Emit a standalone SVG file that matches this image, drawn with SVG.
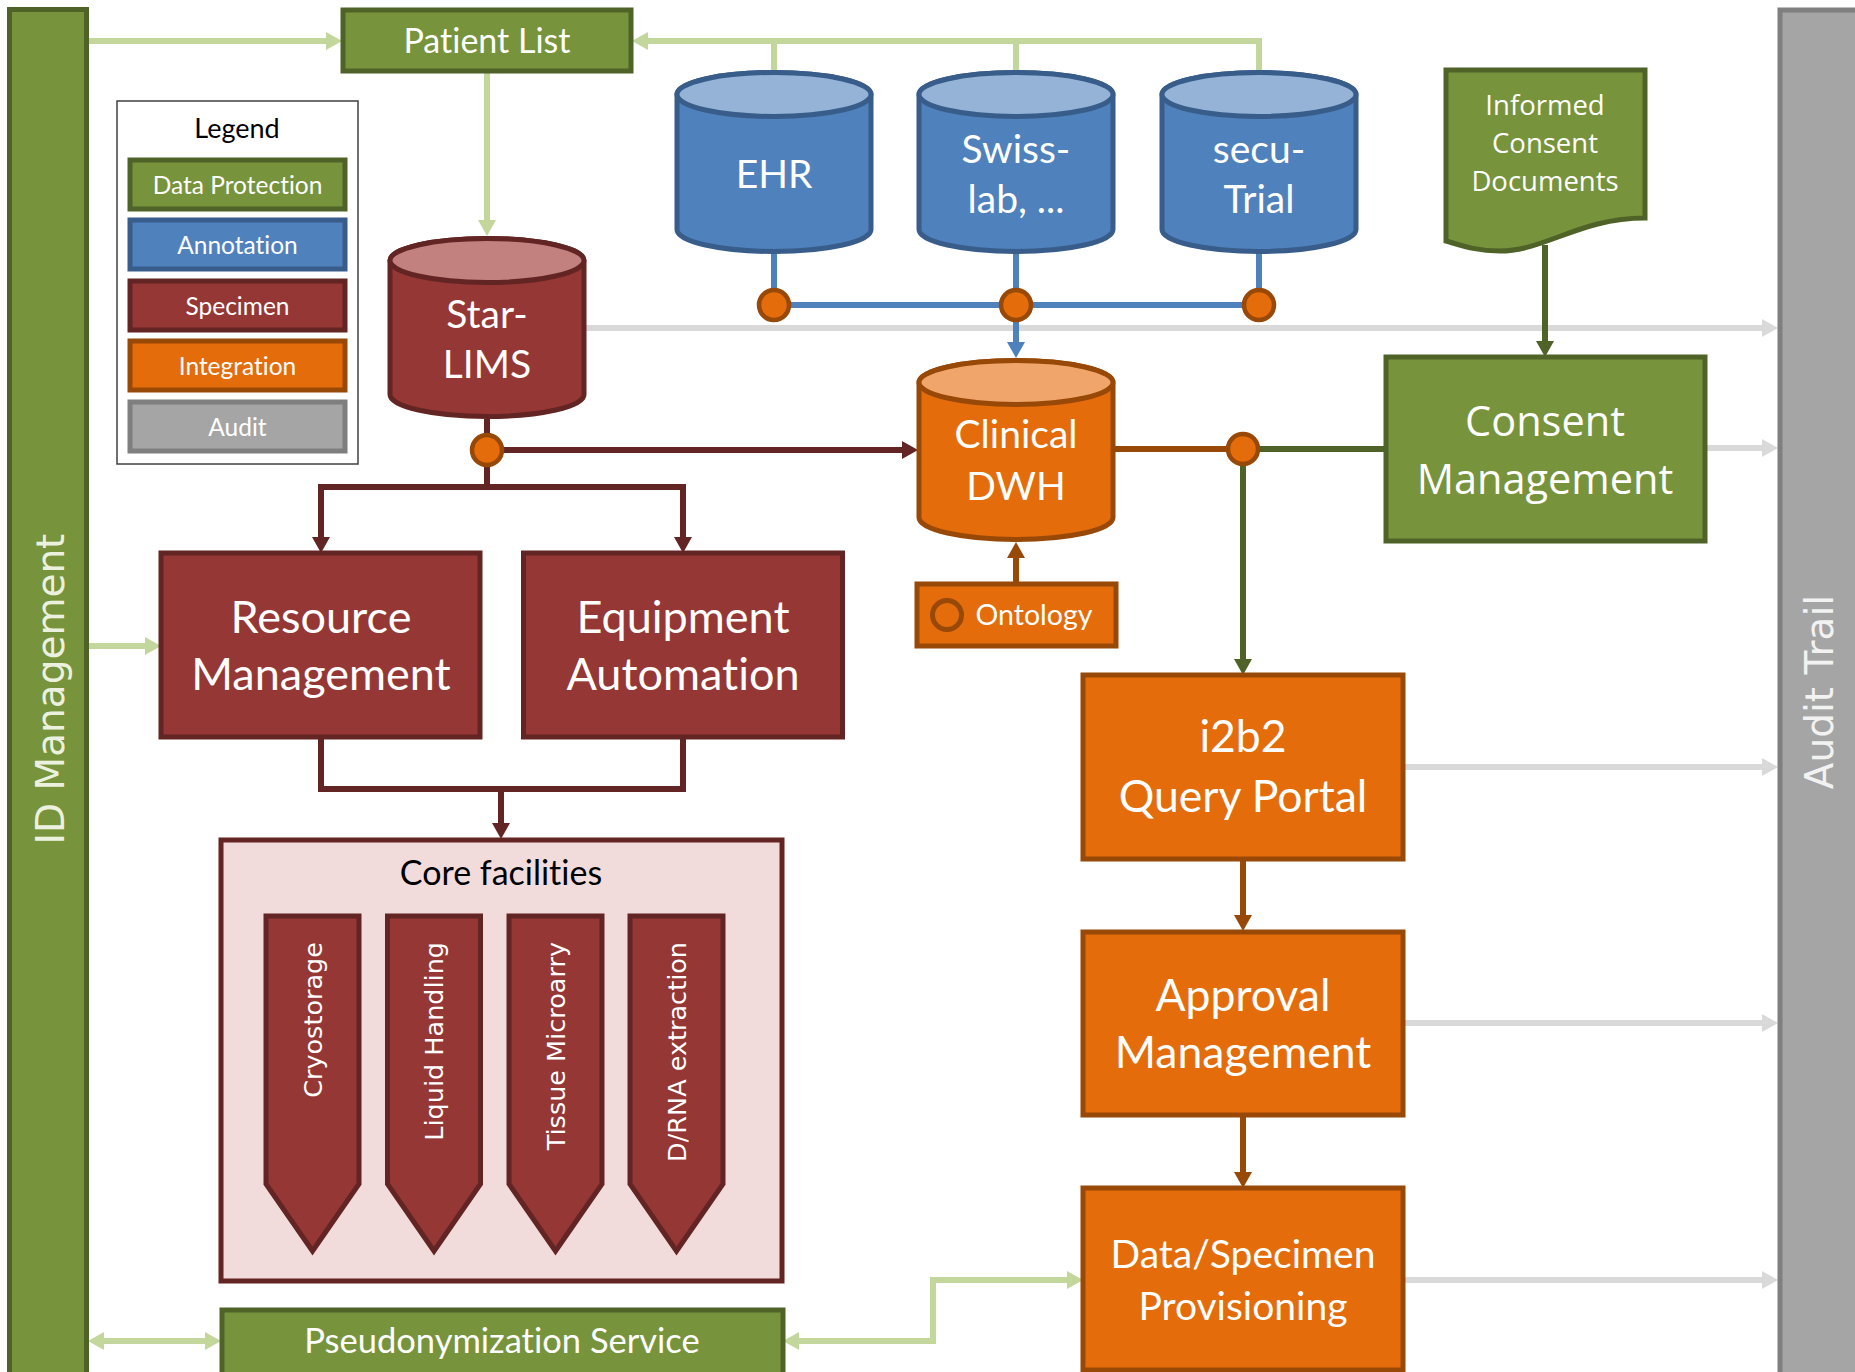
<svg xmlns="http://www.w3.org/2000/svg" width="1855" height="1372" viewBox="0 0 1855 1372">
<style>
.cal{font-family:Lato,"Liberation Sans",sans-serif;fill:#fff;text-anchor:middle;font-variant-ligatures:none}
.seg{font-family:"Open Sans","Liberation Sans",sans-serif;fill:#fff;text-anchor:middle}
.ver{font-family:"DejaVu Sans",Verdana,sans-serif;text-anchor:middle}
.green{fill:#77933c;stroke:#4f6228;stroke-width:5}
.blue{fill:#4f81bd;stroke:#385d8a;stroke-width:5}
.red{fill:#953735;stroke:#632523;stroke-width:5}
.orange{fill:#e46c0a;stroke:#984807;stroke-width:5}
.gray{fill:#a5a5a5;stroke:#7f7f7f;stroke-width:5}
.c{fill:none;stroke-width:6}
.lg{stroke:#c3d69b}
.gr{stroke:#d9d9d9}
.bl{stroke:#4f81bd}
.dr{stroke:#632523}
.br{stroke:#984807}
.dg{stroke:#4f6228}
.jn{fill:#e46c0a;stroke:#984807;stroke-width:4.5}
</style>
<defs>
<marker id="aLg" markerUnits="userSpaceOnUse" markerWidth="16" markerHeight="18" refX="0" refY="9" orient="auto-start-reverse"><path d="M0,0 L16,9 L0,18 Z" fill="#c3d69b"/></marker>
<marker id="aGr" markerUnits="userSpaceOnUse" markerWidth="16" markerHeight="18" refX="0" refY="9" orient="auto-start-reverse"><path d="M0,0 L16,9 L0,18 Z" fill="#d9d9d9"/></marker>
<marker id="aBl" markerUnits="userSpaceOnUse" markerWidth="16" markerHeight="18" refX="0" refY="9" orient="auto-start-reverse"><path d="M0,0 L16,9 L0,18 Z" fill="#4f81bd"/></marker>
<marker id="aDr" markerUnits="userSpaceOnUse" markerWidth="16" markerHeight="18" refX="0" refY="9" orient="auto-start-reverse"><path d="M0,0 L16,9 L0,18 Z" fill="#632523"/></marker>
<marker id="aBr" markerUnits="userSpaceOnUse" markerWidth="16" markerHeight="18" refX="0" refY="9" orient="auto-start-reverse"><path d="M0,0 L16,9 L0,18 Z" fill="#984807"/></marker>
<marker id="aDg" markerUnits="userSpaceOnUse" markerWidth="16" markerHeight="18" refX="0" refY="9" orient="auto-start-reverse"><path d="M0,0 L16,9 L0,18 Z" fill="#4f6228"/></marker>
</defs>
<rect width="1855" height="1372" fill="#fff"/>

<g id="connectors">
<path class="c lg" d="M87,41 H326" marker-end="url(#aLg)"/>
<path class="c lg" d="M1259,70 V41 H648" marker-end="url(#aLg)"/>
<path class="c lg" d="M774,70 V41 M1016,70 V41"/>
<path class="c lg" d="M487,72 V220" marker-end="url(#aLg)"/>
<path class="c lg" d="M87,646 H145" marker-end="url(#aLg)"/>
<path class="c lg" d="M104,1341 H205" marker-start="url(#aLg)" marker-end="url(#aLg)"/>
<path class="c lg" d="M799,1341 H933 V1280 H1067" marker-start="url(#aLg)" marker-end="url(#aLg)"/>
<path class="c gr" d="M586,328 H1762" marker-end="url(#aGr)"/>
<path class="c gr" d="M1705,448 H1762" marker-end="url(#aGr)"/>
<path class="c gr" d="M1403,767 H1762" marker-end="url(#aGr)"/>
<path class="c gr" d="M1403,1023 H1762" marker-end="url(#aGr)"/>
<path class="c gr" d="M1403,1280 H1762" marker-end="url(#aGr)"/>
<path class="c bl" d="M774,252 V305 H1259 M1016,252 V305 M1259,252 V305"/>
<path class="c bl" d="M1016,305 V342" marker-end="url(#aBl)"/>
<path class="c dr" d="M487,419 V487"/>
<path class="c dr" d="M321,537 V487 H683 V537" marker-start="url(#aDr)" marker-end="url(#aDr)"/>
<path class="c dr" d="M487,450 H902" marker-end="url(#aDr)"/>
<path class="c dr" d="M321,737 V789 H683 V737"/>
<path class="c dr" d="M501,789 V823" marker-end="url(#aDr)"/>
<path class="c br" d="M1115,449 H1243"/>
<path class="c br" d="M1016,584 V558" marker-end="url(#aBr)"/>
<path class="c br" d="M1243,859 V915" marker-end="url(#aBr)"/>
<path class="c br" d="M1243,1115 V1172" marker-end="url(#aBr)"/>
<path class="c dg" d="M1243,449 H1386"/>
<path class="c dg" d="M1243,449 V659" marker-end="url(#aDg)"/>
<path class="c dg" d="M1545,245 V341" marker-end="url(#aDg)"/>
<circle class="jn" cx="487" cy="450" r="15"/>
<circle class="jn" cx="774" cy="305" r="15"/>
<circle class="jn" cx="1016" cy="305" r="15"/>
<circle class="jn" cx="1259" cy="305" r="15"/>
<circle class="jn" cx="1243" cy="449" r="15"/>
</g>

<g id="id-management">
<rect class="green" x="9.5" y="9.5" width="77" height="1375"/>
<text class="ver" transform="translate(64,689) rotate(-90)" font-size="39" fill="#ebf1de">ID Management</text>
</g>

<g id="audit-trail">
<rect class="gray" x="1780" y="10" width="90" height="1375"/>
<text class="ver" transform="translate(1833,692) rotate(-90)" font-size="39" fill="#f2f2f2">Audit Trail</text>
</g>

<g id="patient-list">
<rect class="green" x="343" y="10" width="288" height="61" stroke-width="4"/>
<text class="cal" x="487" y="53" font-size="34">Patient List</text>
</g>

<g id="legend">
<rect x="117" y="101" width="241" height="363" fill="#fff" stroke="#404040" stroke-width="1.5"/>
<text class="cal" x="237" y="138" font-size="27" style="fill:#000">Legend</text>
<rect class="green" x="130" y="160" width="215" height="49"/>
<text class="cal" x="237.5" y="193.5" font-size="24.5">Data Protection</text>
<rect class="blue" x="130" y="220" width="215" height="49"/>
<text class="cal" x="237.5" y="253.5" font-size="24.5">Annotation</text>
<rect class="red" x="130" y="281" width="215" height="49"/>
<text class="cal" x="237.5" y="314.5" font-size="24.5">Specimen</text>
<rect class="orange" x="130" y="341" width="215" height="49"/>
<text class="cal" x="237.5" y="374.5" font-size="24.5">Integration</text>
<rect class="gray" x="130" y="402" width="215" height="49"/>
<text class="cal" x="237.5" y="435.5" font-size="24.5">Audit</text>
</g>

<g id="ehr">
<path class="blue" d="M677,94.5 V229.5 A97,22 0 0 0 871,229.5 V94.5 A97,22 0 0 0 677,94.5 Z"/>
<ellipse cx="774" cy="94.5" rx="97" ry="22" fill="#95b3d7" stroke="#385d8a" stroke-width="5"/>
<text class="cal" x="774" y="188" font-size="39">EHR</text>
</g>

<g id="swisslab">
<path class="blue" d="M919,94.5 V229.5 A97,22 0 0 0 1113,229.5 V94.5 A97,22 0 0 0 919,94.5 Z"/>
<ellipse cx="1016" cy="94.5" rx="97" ry="22" fill="#95b3d7" stroke="#385d8a" stroke-width="5"/>
<text class="cal" x="1016" y="163" font-size="39">Swiss-</text>
<text class="cal" x="1016" y="213" font-size="39">lab, ...</text>
</g>

<g id="secutrial">
<path class="blue" d="M1162,94.5 V229.5 A97,22 0 0 0 1356,229.5 V94.5 A97,22 0 0 0 1162,94.5 Z"/>
<ellipse cx="1259" cy="94.5" rx="97" ry="22" fill="#95b3d7" stroke="#385d8a" stroke-width="5"/>
<text class="cal" x="1259" y="163" font-size="39">secu-</text>
<text class="cal" x="1259" y="213" font-size="39">Trial</text>
</g>

<g id="star-lims">
<path class="red" d="M390,260.5 V394.5 A97,22 0 0 0 584,394.5 V260.5 A97,22 0 0 0 390,260.5 Z"/>
<ellipse cx="487" cy="260.5" rx="97" ry="22" fill="#c2817f" stroke="#632523" stroke-width="5"/>
<text class="cal" x="487" y="328" font-size="39">Star-</text>
<text class="cal" x="487" y="378" font-size="39">LIMS</text>
</g>

<g id="clinical-dwh">
<path class="orange" d="M919,382.5 V517.5 A97,22 0 0 0 1113,517.5 V382.5 A97,22 0 0 0 919,382.5 Z"/>
<ellipse cx="1016" cy="382.5" rx="97" ry="22" fill="#f0a66a" stroke="#984807" stroke-width="5"/>
<text class="cal" x="1016" y="448" font-size="39">Clinical</text>
<text class="cal" x="1016" y="500" font-size="39">DWH</text>
</g>

<g id="ontology">
<rect class="orange" x="917" y="584" width="199" height="62"/>
<circle cx="947" cy="615" r="14.5" fill="#e46c0a" stroke="#984807" stroke-width="5"/>
<text class="cal" x="1034" y="625" font-size="28.5">Ontology</text>
</g>

<g id="informed-consent-documents">
<path class="green" d="M1446,70 H1645 V218 C1580,218 1545,251 1500,251 C1475,251 1460,245 1446,241 Z"/>
<text class="seg" x="1545" y="115" font-size="27.5">Informed</text>
<text class="seg" x="1545" y="153" font-size="27.5">Consent</text>
<text class="seg" x="1545" y="191" font-size="27.5">Documents</text>
</g>

<g id="consent-management">
<rect class="green" x="1386" y="357" width="319" height="184"/>
<text class="seg" x="1545" y="436" font-size="41.5">Consent</text>
<text class="seg" x="1545" y="494" font-size="41.5">Management</text>
</g>

<g id="resource-management">
<rect class="red" x="161" y="553" width="319" height="184"/>
<text class="cal" x="321" y="633" font-size="45">Resource</text>
<text class="cal" x="321" y="690" font-size="45">Management</text>
</g>

<g id="equipment-automation">
<rect class="red" x="523.5" y="553" width="319" height="184"/>
<text class="cal" x="683" y="633" font-size="45">Equipment</text>
<text class="cal" x="683" y="690" font-size="45">Automation</text>
</g>

<g id="core-facilities">
<rect x="221" y="840" width="561" height="441" fill="#f2dcdb" stroke="#632523" stroke-width="5"/>
<text class="cal" x="501" y="885" font-size="34" style="fill:#000">Core facilities</text>
<g id="cryostorage">
<path class="red" stroke-width="4" d="M266,916 H359 V1184 L312.5,1251 L266,1184 Z"/>
<text class="ver" transform="translate(312.5,942) rotate(-90)" x="0" y="9" font-size="25.5" fill="#fff" style="text-anchor:end">Cryostorage</text>
</g>
<g id="liquid-handling">
<path class="red" stroke-width="4" d="M387.5,916 H480.5 V1184 L434,1251 L387.5,1184 Z"/>
<text class="ver" transform="translate(434,942) rotate(-90)" x="0" y="9" font-size="25.5" fill="#fff" style="text-anchor:end">Liquid Handling</text>
</g>
<g id="tissue-microarray">
<path class="red" stroke-width="4" d="M509,916 H602 V1184 L555.5,1251 L509,1184 Z"/>
<text class="ver" transform="translate(555.5,942) rotate(-90)" x="0" y="9" font-size="25.5" fill="#fff" style="text-anchor:end">Tissue Microarry</text>
</g>
<g id="drna-extraction">
<path class="red" stroke-width="4" d="M630,916 H723 V1184 L676.5,1251 L630,1184 Z"/>
<text class="ver" transform="translate(676.5,942) rotate(-90)" x="0" y="9" font-size="25.5" fill="#fff" style="text-anchor:end">D/RNA extraction</text>
</g>
</g>

<g id="pseudonymization-service">
<rect class="green" x="222" y="1310" width="561" height="75"/>
<text class="cal" x="502" y="1353" font-size="34.5">Pseudonymization Service</text>
</g>

<g id="i2b2-query-portal">
<rect class="orange" x="1083" y="675" width="320" height="184"/>
<text class="cal" x="1243" y="752" font-size="44.5">i2b2</text>
<text class="cal" x="1243" y="812" font-size="44.5">Query Portal</text>
</g>

<g id="approval-management">
<rect class="orange" x="1083" y="932" width="320" height="183"/>
<text class="cal" x="1243" y="1011" font-size="44.5">Approval</text>
<text class="cal" x="1243" y="1068" font-size="44.5">Management</text>
</g>

<g id="data-specimen-provisioning">
<rect class="orange" x="1083" y="1188" width="320" height="182"/>
<text class="cal" x="1243" y="1268" font-size="39">Data/Specimen</text>
<text class="cal" x="1243" y="1320" font-size="39">Provisioning</text>
</g>
</svg>
